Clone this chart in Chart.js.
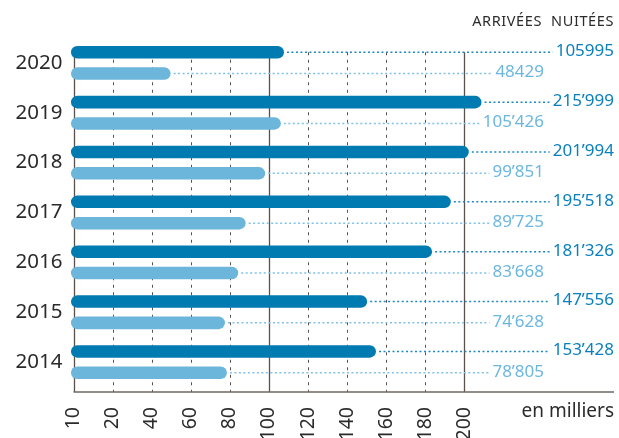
<!DOCTYPE html>
<html>
<head>
<meta charset="utf-8">
<script src="https://cdn.jsdelivr.net/npm/chart.js@4.4.0/dist/chart.umd.min.js"></script>
<style>
  html, body { margin: 0; padding: 0; background: #fff; }
  #tourismChart { display: block; }
</style>
</head>
<body>
<canvas id="tourismChart" width="619" height="438"></canvas>
<script>
const years = ['2020', '2019', '2018', '2017', '2016', '2015', '2014'];
// bar lengths in thousands
const arrivals = [107.7, 208.8, 202.3, 193.1, 183.5, 150.3, 154.8];
const nights = [49.7, 106.1, 98.1, 88.1, 84.3, 77.5, 78.5];
// figures printed at the end of each row
const arrivalLabels = ['105995', '215’999', '201’994', '195’518', '181’326', '147’556', '153’428'];
const nightLabels = ['48429', '105’426', '99’851', '89’725', '83’668', '74’628', '78’805'];
const tickValues = [0, 20, 40, 60, 80, 100, 120, 140, 160, 180, 200];
const tickLabels = ['10', '20', '40', '60', '80', '100', '120', '140', '160', '180', '200'];
const solidTicks = [0, 100, 200];

const darkBlue = '#007bb1';
const lightBlue = '#6cb5db';
const gridColor = '#5b514c';
const textColor = '#2b2b2b';
const fontFamily = '"Noto Sans", sans-serif';

function drawLeader(ctx, x1, x2, y, color) {
    ctx.strokeStyle = color;
    ctx.lineWidth = 1.5;
    ctx.setLineDash([2, 2.5]);
    ctx.beginPath();
    ctx.moveTo(x1, y);
    ctx.lineTo(x2, y);
    ctx.stroke();
}

const decorations = {
    id: 'decorations',
    beforeDatasetsDraw(chart) {
        const ctx = chart.ctx;
        const xScale = chart.scales.x;
        const area = chart.chartArea;
        const top = chart.getDatasetMeta(0).data[0].y;
        const axisY = area.bottom + 5;

        ctx.save();
        ctx.strokeStyle = gridColor;
        tickValues.forEach(v => {
            const px = Math.round(xScale.getPixelForValue(v)) + 0.5;
            const solid = solidTicks.includes(v);
            ctx.lineWidth = solid ? 1.3 : 1;
            ctx.setLineDash(solid ? [] : [3, 4.5]);
            ctx.beginPath();
            ctx.moveTo(px, top);
            ctx.lineTo(px, axisY);
            ctx.stroke();
        });
        ctx.setLineDash([]);
        ctx.lineWidth = 1.5;
        ctx.strokeStyle = '#6e6762';
        ctx.beginPath();
        ctx.moveTo(xScale.getPixelForValue(0), axisY);
        ctx.lineTo(area.right, axisY);
        ctx.stroke();

        // leader lines from bar end to the printed figure
        ctx.font = '17px ' + fontFamily;
        const darkBars = chart.getDatasetMeta(0).data;
        const lightBars = chart.getDatasetMeta(1).data;
        darkBars.forEach((bar, i) => {
            const w = ctx.measureText(arrivalLabels[i]).width;
            drawLeader(ctx, bar.x + 3, area.right - w - 3, bar.y, '#1e88c3');
        });
        lightBars.forEach((bar, i) => {
            const w = ctx.measureText(nightLabels[i]).width;
            drawLeader(ctx, bar.x + 3, area.right - 70 - w - 3, bar.y, '#7fc1e5');
        });
        ctx.restore();
    },
    afterDatasetsDraw(chart) {
        const ctx = chart.ctx;
        const area = chart.chartArea;
        ctx.save();
        ctx.font = '17px ' + fontFamily;
        ctx.textAlign = 'right';
        ctx.textBaseline = 'middle';
        chart.getDatasetMeta(0).data.forEach((bar, i) => {
            ctx.fillStyle = '#0b80bd';
            ctx.fillText(arrivalLabels[i], area.right, bar.y - 1);
        });
        chart.getDatasetMeta(1).data.forEach((bar, i) => {
            ctx.fillStyle = '#6cb7e0';
            ctx.fillText(nightLabels[i], area.right - 70, bar.y - 1);
        });

        ctx.fillStyle = textColor;
        ctx.textBaseline = 'alphabetic';
        ctx.font = '14.5px ' + fontFamily;
        ctx.letterSpacing = '0.6px';
        ctx.fillText('NUITÉES', area.right, 26);
        ctx.fillText('ARRIVÉES', area.right - 72, 26);
        ctx.letterSpacing = '0px';
        ctx.font = '19px ' + fontFamily;
        ctx.fillText('en milliers', area.right, 417);
        ctx.restore();
    }
};

const chart = new Chart(document.getElementById('tourismChart'), {
    type: 'bar',
    data: {
        labels: years,
        datasets: [
            { label: 'Arrivées', data: arrivals, backgroundColor: darkBlue, base: -1.3, clip: false },
            { label: 'Nuitées', data: nights, backgroundColor: lightBlue, base: -1.3, clip: false }
        ]
    },
    options: {
        indexAxis: 'y',
        responsive: false,
        animation: false,
        events: [],
        layout: { padding: { top: 38, right: 5, left: 0, bottom: 0 } },
        datasets: {
            bar: {
                categoryPercentage: 0.855,
                barPercentage: 0.587,
                borderRadius: 8,
                borderSkipped: false
            }
        },
        plugins: {
            legend: { display: false },
            tooltip: { enabled: false }
        },
        scales: {
            x: {
                min: 0,
                max: 276.6,
                afterBuildTicks: scale => { scale.ticks = tickValues.map(v => ({ value: v })); },
                afterFit: scale => { scale.height = 51; },
                ticks: {
                    minRotation: 90,
                    maxRotation: 90,
                    autoSkip: false,
                    padding: 20,
                    color: textColor,
                    font: { family: fontFamily, size: 19.5 },
                    callback: (value, index) => tickLabels[index]
                },
                grid: { display: false, drawTicks: false },
                border: { display: false }
            },
            y: {
                afterFit: scale => { scale.width = 73.5; },
                ticks: {
                    padding: 11,
                    color: textColor,
                    font: { family: fontFamily, size: 20.5 }
                },
                grid: { display: false, drawTicks: false },
                border: { display: false }
            }
        }
    },
    plugins: [decorations]
});
</script>
</body>
</html>
